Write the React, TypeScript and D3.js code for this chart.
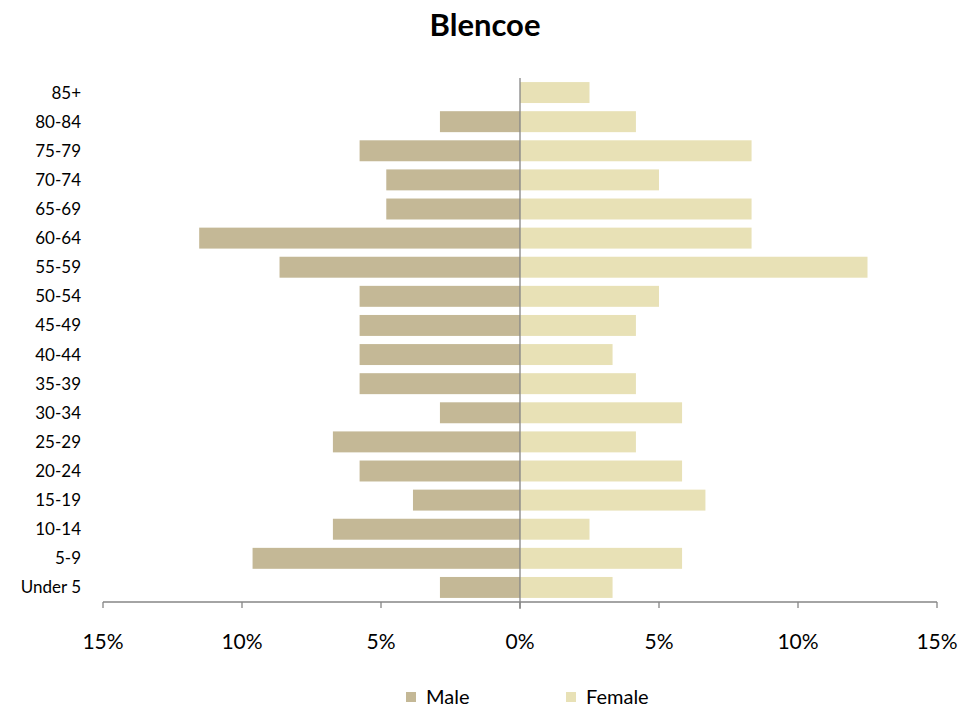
import React from "react";
import * as d3 from "d3";

const categories = ["85+","80-84","75-79","70-74","65-69","60-64","55-59","50-54","45-49","40-44","35-39","30-34","25-29","20-24","15-19","10-14","5-9","Under 5"];
const maleValues = [0,2.88,5.77,4.81,4.81,11.54,8.65,5.77,5.77,5.77,5.77,2.88,6.73,5.77,3.85,6.73,9.62,2.88];
const femaleValues = [2.5,4.17,8.33,5.0,8.33,8.33,12.5,5.0,4.17,3.33,4.17,5.83,4.17,5.83,6.67,2.5,5.83,3.33];
const xTicks = [-15,-10,-5,0,5,10,15];

const W = 979, H = 713;
const MALE = "#C4B896";
const FEMALE = "#E8E1B6";
const AXIS = "#868686";
const FONT = "Lato, 'Open Sans', sans-serif";

export default function App() {
  const x = d3.scaleLinear().domain([-15, 15]).range([103, 937]);
  const y = d3.scaleBand().domain(categories).range([78, 602]).paddingInner(0.28).paddingOuter(0.14);
  const bw = y.bandwidth();
  return (
    <svg width={W} height={H} style={{ position: "absolute", left: 0, top: 0 }} fontFamily={FONT}>
      <rect width={W} height={H} fill="#fff" />
      <text x={485} y={36} textAnchor="middle" fontSize={31} fontWeight="bold" fill="#000">Blencoe</text>
      {categories.map((c, i) => (
        <g key={c}>
          {maleValues[i] > 0 && (
            <rect x={x(-maleValues[i])} y={y(c)!} width={x(0) - x(-maleValues[i])} height={bw} fill={MALE} />
          )}
          {femaleValues[i] > 0 && (
            <rect x={x(0)} y={y(c)!} width={x(femaleValues[i]) - x(0)} height={bw} fill={FEMALE} />
          )}
          <text x={81} y={y(c)! + bw / 2} dy="0.35em" textAnchor="end" fontSize={17} fill="#000">{c}</text>
        </g>
      ))}
      <line x1={x(0)} x2={x(0)} y1={78} y2={609} stroke={AXIS} strokeWidth={1.3} />
      <line x1={x(-15)} x2={x(15)} y1={602} y2={602} stroke={AXIS} strokeWidth={1.3} />
      {xTicks.map((t) => (
        <g key={t}>
          <line x1={x(t)} x2={x(t)} y1={602} y2={608} stroke={AXIS} strokeWidth={1.3} />
          <text x={x(t)} y={642} dy="0.35em" textAnchor="middle" fontSize={21} fill="#000">{Math.abs(t)}%</text>
        </g>
      ))}
      <rect x={406} y={692} width={10} height={10} fill={MALE} />
      <text x={426} y={697} dy="0.35em" fontSize={20} fill="#000">Male</text>
      <rect x={566} y={692} width={10} height={10} fill={FEMALE} />
      <text x={586} y={697} dy="0.35em" fontSize={20} fill="#000">Female</text>
    </svg>
  );
}
